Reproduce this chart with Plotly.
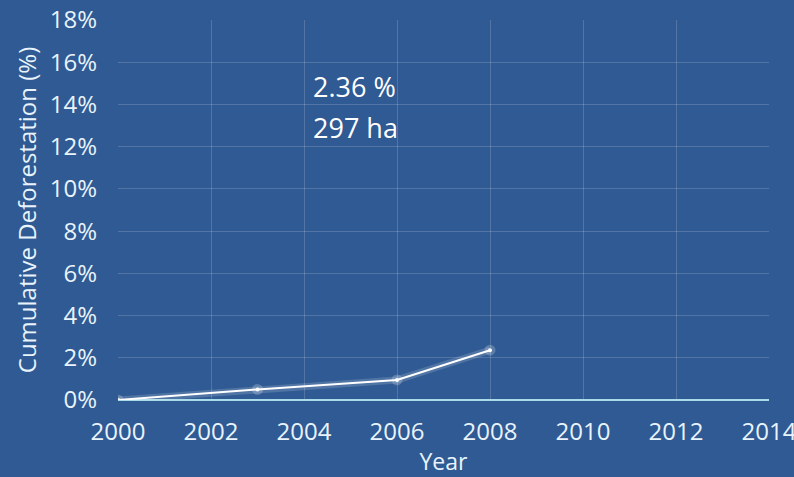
import plotly.graph_objects as go

years = [2000, 2003, 2006, 2008]
cum_defor = [0.0, 0.5, 0.95, 2.36]
x_ticks = [2000, 2002, 2004, 2006, 2008, 2010, 2012, 2014]
y_ticks = [0, 2, 4, 6, 8, 10, 12, 14, 16, 18]
y_labels = [f"{v}%" for v in y_ticks]
annot_pct = "2.36 %"
annot_ha = "297 ha"

bg = "#2f5a93"
txt = "#e8f3fb"
font = "Open Sans"

fig = go.Figure()
# glow
fig.add_trace(go.Scatter(x=years, y=cum_defor, mode="lines+markers",
                         line=dict(color="rgba(255,255,255,0.16)", width=7),
                         marker=dict(size=11, color="rgba(255,255,255,0.22)"),
                         hoverinfo="skip", showlegend=False))
fig.add_trace(go.Scatter(x=years, y=cum_defor, mode="lines+markers",
                         line=dict(color="white", width=2),
                         marker=dict(size=4, color="white"),
                         showlegend=False))

for txt_line, ypos in [(annot_pct, 0.824), (annot_ha, 0.718)]:
    fig.add_annotation(x=0.297, y=ypos, xref="paper", yref="paper",
                       text=txt_line, showarrow=False,
                       xanchor="left", yanchor="middle", align="left",
                       font=dict(family=font, size=27, color="white"))

fig.update_layout(
    width=794, height=477,
    paper_bgcolor=bg, plot_bgcolor=bg,
    margin=dict(l=118, r=25, t=20, b=77, autoexpand=False),
    font=dict(family=font, color=txt),
)
fig.update_xaxes(range=[2000, 2014], tickvals=x_ticks,
                 tickfont=dict(size=24, color=txt), automargin=False,
                 showgrid=True, gridcolor="rgba(255,255,255,0.17)", gridwidth=1,
                 zeroline=False, showline=False, ticks="",
                 ticklabelstandoff=15, ticklabeloverflow="allow",
                 title=dict(text="Year", font=dict(size=23, color=txt), standoff=0))
fig.update_yaxes(range=[0, 18], tickvals=y_ticks, ticktext=y_labels,
                 tickfont=dict(size=24, color=txt), automargin=False,
                 showgrid=True, gridcolor="rgba(255,255,255,0.17)", gridwidth=1,
                 zeroline=True, zerolinecolor="#a9dbe8", zerolinewidth=1.5,
                 showline=False, ticks="", ticklabelstandoff=20,
                 ticklabeloverflow="allow",
                 title=dict(text="Cumulative Deforestation (%)",
                            font=dict(size=24, color=txt), standoff=6))

fig.write_html("out.html", config={"displayModeBar": False},
               post_script="document.body.style.margin='0';")
